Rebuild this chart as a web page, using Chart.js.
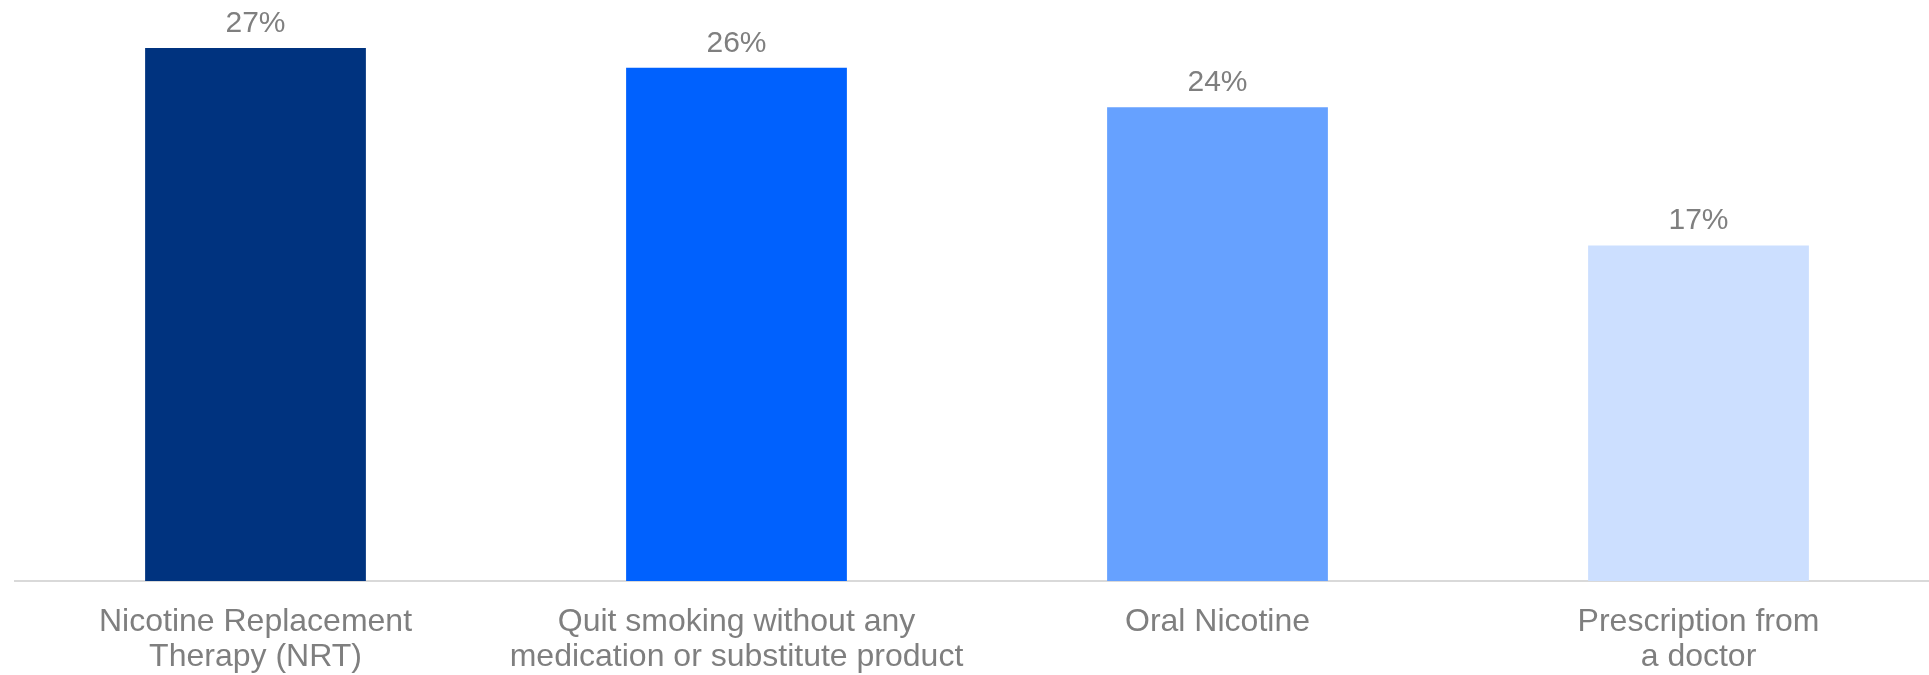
<!DOCTYPE html>
<html>
<head>
<meta charset="utf-8">
<title>Quit methods</title>
<script src="https://cdn.jsdelivr.net/npm/chart.js@4/dist/chart.umd.min.js"></script>
<style>
    html, body { margin: 0; padding: 0; background: #ffffff; overflow: hidden; }
    #wrap { position: relative; width: 1939px; height: 675px; }
</style>
</head>
<body>
<div id="wrap"><canvas id="quitChart"></canvas></div>
<script>
// Share of respondents by method used to quit
const categories = [
    ['Nicotine Replacement', 'Therapy (NRT)'],
    ['Quit smoking without any', 'medication or substitute product'],
    'Oral Nicotine',
    ['Prescription from', 'a doctor']
];
const shares = [27, 26, 24, 17];
const barColors = ['#00337F', '#0061FE', '#66A1FF', '#CCDFFF'];
const yMax = 29.43;

const TEXT_GREY = '#7F7F7F';
const FONT = 'Arial, "Liberation Sans", sans-serif';

// Value labels above each bar
const valueLabels = {
    id: 'valueLabels',
    afterDatasetsDraw(chart) {
        const ctx = chart.ctx;
        const meta = chart.getDatasetMeta(0);
        ctx.save();
        ctx.fillStyle = TEXT_GREY;
        ctx.font = '30px ' + FONT;
        ctx.textAlign = 'center';
        ctx.textBaseline = 'alphabetic';
        meta.data.forEach((bar, i) => {
            ctx.fillText(shares[i] + '%', bar.x, bar.y - 16);
        });
        ctx.restore();
    }
};

new Chart(document.getElementById('quitChart'), {
    type: 'bar',
    data: {
        labels: categories,
        datasets: [{
            data: shares,
            backgroundColor: barColors,
            borderWidth: 0,
            barPercentage: 0.459,
            categoryPercentage: 1
        }]
    },
    options: {
        responsive: true,
        maintainAspectRatio: false,
        animation: false,
        layout: { padding: { left: 15, right: 0, top: 0, bottom: 0 } },
        plugins: {
            legend: { display: false },
            tooltip: { enabled: false }
        },
        scales: {
            x: {
                grid: { display: false, drawTicks: false },
                border: { display: true, color: '#D9D9D9', width: 2 },
                ticks: {
                    color: TEXT_GREY,
                    font: { family: FONT, size: 32, lineHeight: 1.08 },
                    padding: 24,
                    maxRotation: 0,
                    autoSkip: false
                },
                // keep the baseline at a fixed height above the bottom edge
                afterFit: scale => { scale.height = 94; }
            },
            y: {
                display: false,
                min: 0,
                max: yMax
            }
        }
    },
    plugins: [valueLabels]
});
</script>
</body>
</html>
